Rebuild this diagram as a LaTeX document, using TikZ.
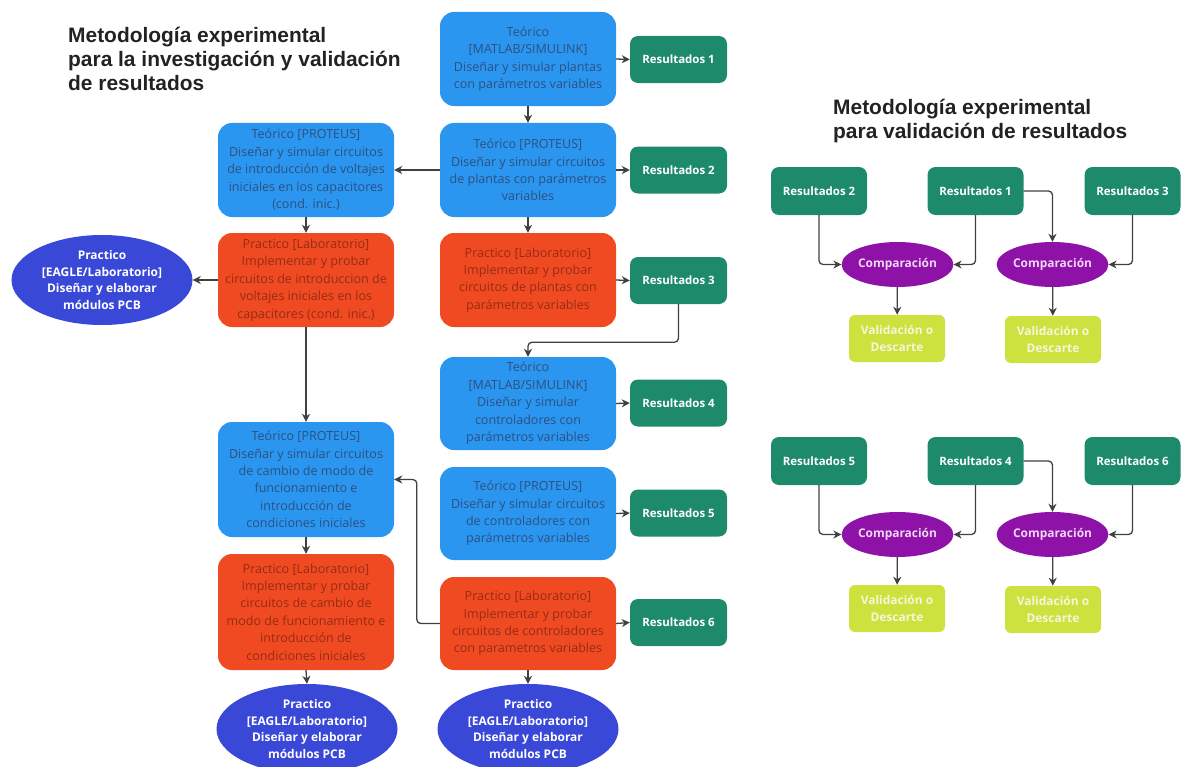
\documentclass[tikz,border=0pt]{standalone}
\usepackage{fontspec}
\setmainfont{Open Sans}
\newfontfamily\titlefont{Liberation Sans}
\usetikzlibrary{arrows.meta,shapes.geometric}
\definecolor{boxblue}{HTML}{2A96F0}
\definecolor{boxred}{HTML}{F04A22}
\definecolor{bluetext}{HTML}{2E5080}
\definecolor{redtext}{HTML}{962C14}
\definecolor{resgreen}{HTML}{1E8A6C}
\definecolor{ellblue}{HTML}{3A48D8}
\definecolor{cmppurple}{HTML}{8E12A8}
\definecolor{cmptext}{HTML}{F3D8F6}
\definecolor{limefill}{HTML}{CDE23E}
\definecolor{valtext}{HTML}{F4F8DA}
\definecolor{arrgray}{HTML}{404040}
\definecolor{titlecol}{HTML}{222222}
\tikzset{
  box/.style={rounded corners=14bp, minimum width=176bp, align=center, inner sep=0pt,
    font=\fontsize{12.6}{17.5}\selectfont},
  bluebox/.style={box, fill=boxblue, text=bluetext},
  redbox/.style={box, fill=boxred, text=redtext},
  res/.style={rounded corners=8bp, fill=resgreen, text=white, minimum width=97bp,
    minimum height=47bp, inner sep=0pt, font=\bfseries\fontsize{11.5}{14}\selectfont},
  pcb/.style={ellipse, fill=ellblue, text=white, minimum width=181bp, minimum height=90bp,
    inner sep=-7bp, align=center, font=\bfseries\fontsize{12}{17}\selectfont},
  cmp/.style={ellipse, fill=cmppurple, text=cmptext, minimum width=111bp, minimum height=45bp,
    inner sep=0pt, font=\bfseries\fontsize{12}{14}\selectfont},
  val/.style={rounded corners=6bp, fill=limefill, text=valtext, minimum width=96bp,
    minimum height=47bp, inner sep=0pt, align=center, font=\bfseries\fontsize{12}{16.5}\selectfont},
  arr/.style={draw=arrgray, line width=1.3bp, rounded corners=4bp,
    -{Stealth[length=8bp,width=8bp,inset=2.5bp]}},
  ttl/.style={anchor=north west, inner sep=0pt, align=left, text=titlecol,
    font=\titlefont\bfseries\fontsize{21}{24}\selectfont}
}
\begin{document}
\begin{tikzpicture}[x=1bp,y=-1bp]
\useasboundingbox (0,0) rectangle (1182,767);
% titles
\node[ttl] (title1) at (68,27) {Metodología experimental\\para la investigación y validación\\de resultados};
\node[ttl] (title2) at (833,99) {Metodología experimental\\para validación de resultados};
% middle column
\node[bluebox, minimum height=94bp] (T1) at (528,59) {Teórico\\{[MATLAB/SIMULINK]}\\Diseñar y simular plantas\\con parámetros variables};
\node[bluebox, minimum height=94bp] (T2) at (528,170) {Teórico [PROTEUS]\\Diseñar y simular circuitos\\de plantas con parámetros\\variables};
\node[redbox, minimum height=94bp] (P1) at (528,280) {Practico [Laboratorio]\\Implementar y probar\\circuitos de plantas con\\parámetros variables};
\node[bluebox, minimum height=93bp] (T3) at (528,403.5) {Teórico\\{[MATLAB/SIMULINK]}\\Diseñar y simular\\controladores con\\parámetros variables};
\node[bluebox, minimum height=93bp] (T4) at (528,513.5) {Teórico [PROTEUS]\\Diseñar y simular circuitos\\de controladores con\\parámetros variables};
\node[redbox, minimum height=93bp] (P2) at (528,623.5) {Practico [Laboratorio]\\Implementar y probar\\circuitos de controladores\\con parametros variables};
\node[pcb] (E3) at (528,729) {Practico\\{[EAGLE/Laboratorio]}\\Diseñar y elaborar\\módulos PCB};
% results column
\node[res] (R1) at (678.5,59.5) {Resultados 1};
\node[res] (R2) at (678.5,170) {Resultados 2};
\node[res] (R3) at (678.5,280.5) {Resultados 3};
\node[res] (R4) at (678.5,403) {Resultados 4};
\node[res] (R5) at (678.5,513) {Resultados 5};
\node[res] (R6) at (678.5,622.5) {Resultados 6};
% left column
\node[bluebox, minimum height=94bp] (L1) at (306,170) {Teórico [PROTEUS]\\Diseñar y simular circuitos\\de introducción de voltajes\\iniciales en los capacitores\\(cond. inic.)};
\node[redbox, minimum height=94bp] (LP1) at (306,280) {Practico [Laboratorio]\\Implementar y probar\\circuitos de introduccion de\\voltajes iniciales en los\\capacitores (cond. inic.)};
\node[pcb] (E1) at (102,280) {Practico\\{[EAGLE/Laboratorio]}\\Diseñar y elaborar\\módulos PCB};
\node[bluebox, minimum height=115bp] (L2) at (306,479.5) {Teórico [PROTEUS]\\Diseñar y simular circuitos\\de cambio de modo de\\funcionamiento e\\introducción de\\condiciones iniciales};
\node[redbox, minimum height=116bp] (LP2) at (306,612) {Practico [Laboratorio]\\Implementar y probar\\circuitos de cambio de\\modo de funcionamiento e\\introducción de\\condiciones iniciales};
\node[pcb] (E2) at (307,729) {Practico\\{[EAGLE/Laboratorio]}\\Diseñar y elaborar\\módulos PCB};
% connectors left diagram
\draw[arr] (T1) -- (T2);
\draw[arr] (T2) -- (P1);
\draw[arr] (T1.east) -- (R1.west);
\draw[arr] (T2.east) -- (R2.west);
\draw[arr] (P1.east) -- (R3.west);
\draw[arr] (T3.east) -- (R4.west);
\draw[arr] (T4.east) -- (R5.west);
\draw[arr] (P2.east) -- (R6.west);
\draw[arr] (R3.south) -- ++(0,38) -| (T3.north);
\draw[arr] (P2.south) -- (E3.north);
\draw[arr] (T2.west) -- (L1.east);
\draw[arr] (L1) -- (LP1);
\draw[arr] (LP1.west) -- (E1.east);
\draw[arr] (LP1) -- (L2);
\draw[arr] (L2) -- (LP2);
\draw[arr] (LP2.south) -- (E2.north);
\draw[arr] (P2.west) -- ++(-23,0) |- (L2.east);
% right diagram, top
\node[res, minimum width=96bp, minimum height=48bp] (A2) at (819,191) {Resultados 2};
\node[res, minimum width=96bp, minimum height=48bp] (A1) at (975.5,191) {Resultados 1};
\node[res, minimum width=96bp, minimum height=48bp] (A3) at (1132.5,191) {Resultados 3};
\node[cmp] (C1) at (897.5,264.5) {Comparación};
\node[cmp] (C2) at (1052.5,264.5) {Comparación};
\node[val] (V1) at (897,338.5) {Validación o\\Descarte};
\node[val] (V2) at (1053,339.5) {Validación o\\Descarte};
\draw[arr] (A2.south) |- (C1.west);
\draw[arr] (A1.south) |- (C1.east);
\draw[arr] (A1.east) -| (C2.north);
\draw[arr] (A3.south) |- (C2.east);
\draw[arr] (C1) -- (V1);
\draw[arr] (C2) -- (V2);
% right diagram, bottom
\node[res, minimum width=96bp, minimum height=48bp] (B5) at (819,461) {Resultados 5};
\node[res, minimum width=96bp, minimum height=48bp] (B4) at (975.5,461) {Resultados 4};
\node[res, minimum width=96bp, minimum height=48bp] (B6) at (1132.5,461) {Resultados 6};
\node[cmp] (D1) at (897.5,534.5) {Comparación};
\node[cmp] (D2) at (1052.5,534.5) {Comparación};
\node[val] (W1) at (897,608.5) {Validación o\\Descarte};
\node[val] (W2) at (1053,609.5) {Validación o\\Descarte};
\draw[arr] (B5.south) |- (D1.west);
\draw[arr] (B4.south) |- (D1.east);
\draw[arr] (B4.east) -| (D2.north);
\draw[arr] (B6.south) |- (D2.east);
\draw[arr] (D1) -- (W1);
\draw[arr] (D2) -- (W2);
\end{tikzpicture}
\end{document}
